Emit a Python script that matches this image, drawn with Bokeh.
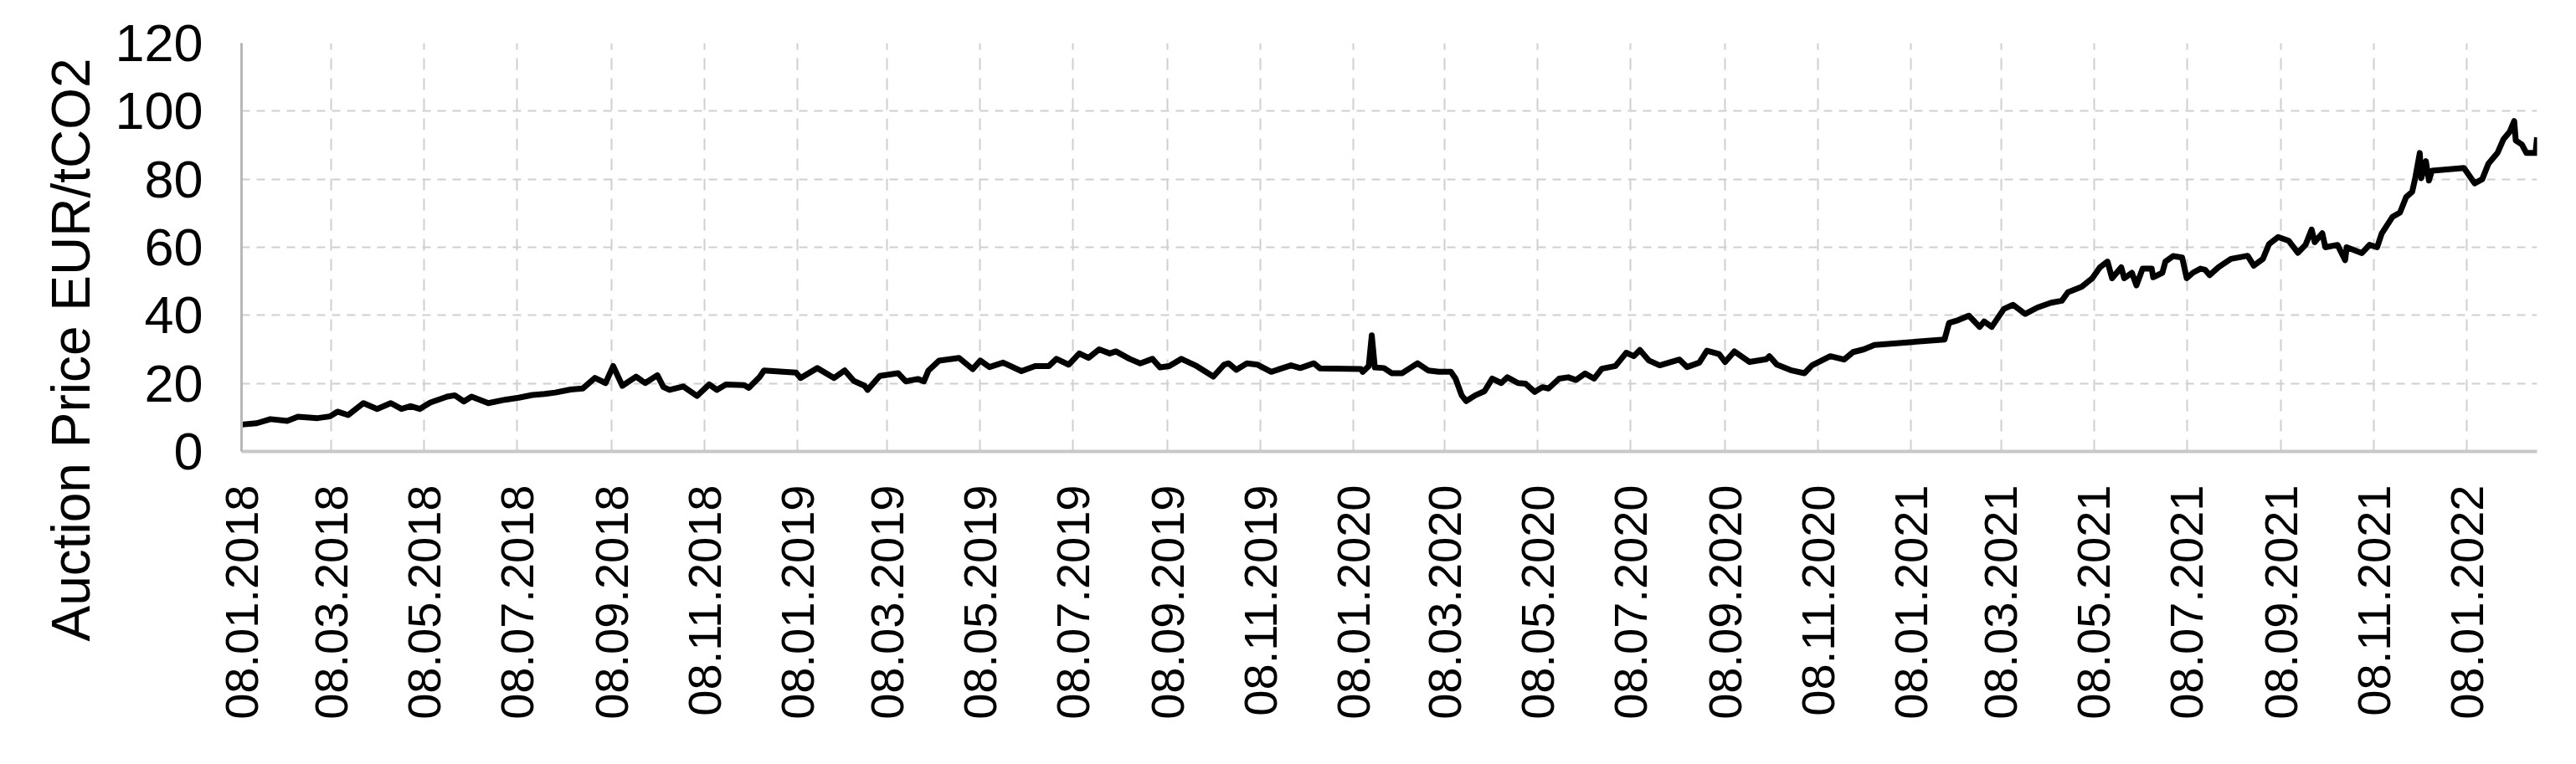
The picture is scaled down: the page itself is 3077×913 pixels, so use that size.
import math
import pandas as pd
from bokeh.plotting import figure
from bokeh.models import ColumnDataSource, Range1d, FixedTicker, DatetimeTickFormatter, Title
from bokeh.embed import file_html
from bokeh.resources import INLINE

# ---- data ----
dates = [
    "2018-01-08", "2018-01-18", "2018-01-27", "2018-02-07", "2018-02-14", "2018-02-27",
    "2018-03-07", "2018-03-12", "2018-03-19", "2018-03-29", "2018-04-07", "2018-04-16",
    "2018-04-23", "2018-04-29", "2018-05-05", "2018-05-12", "2018-05-23", "2018-05-28",
    "2018-06-03", "2018-06-08", "2018-06-19", "2018-06-30", "2018-07-09", "2018-07-18",
    "2018-07-26", "2018-08-02", "2018-08-12", "2018-08-20", "2018-08-28", "2018-09-04",
    "2018-09-09", "2018-09-15", "2018-09-24", "2018-09-30", "2018-10-08", "2018-10-12",
    "2018-10-16", "2018-10-25", "2018-11-03", "2018-11-11", "2018-11-16", "2018-11-22",
    "2018-12-04", "2018-12-07", "2018-12-14", "2018-12-17", "2019-01-07", "2019-01-10",
    "2019-01-21", "2019-02-01", "2019-02-08", "2019-02-14", "2019-02-21", "2019-02-23",
    "2019-03-03", "2019-03-15", "2019-03-20", "2019-03-28", "2019-04-01", "2019-04-04",
    "2019-04-11", "2019-04-24", "2019-05-03", "2019-05-08", "2019-05-14", "2019-05-23",
    "2019-06-04", "2019-06-13", "2019-06-22", "2019-06-27", "2019-07-05", "2019-07-12",
    "2019-07-18", "2019-07-25", "2019-08-01", "2019-08-05", "2019-08-14", "2019-08-21",
    "2019-08-29", "2019-09-03", "2019-09-09", "2019-09-17", "2019-09-27", "2019-10-08",
    "2019-10-15", "2019-10-18", "2019-10-23", "2019-10-30", "2019-11-06", "2019-11-15",
    "2019-11-28", "2019-12-04", "2019-12-13", "2019-12-17", "2020-01-13", "2020-01-14",
    "2020-01-18", "2020-01-20", "2020-01-22", "2020-01-28", "2020-02-02", "2020-02-09",
    "2020-02-13", "2020-02-19", "2020-02-26", "2020-03-04", "2020-03-12", "2020-03-15",
    "2020-03-19", "2020-03-22", "2020-03-28", "2020-04-03", "2020-04-08", "2020-04-14",
    "2020-04-18", "2020-04-25", "2020-04-30", "2020-05-06", "2020-05-11", "2020-05-15",
    "2020-05-22", "2020-05-28", "2020-06-02", "2020-06-08", "2020-06-14", "2020-06-19",
    "2020-06-28", "2020-07-05", "2020-07-10", "2020-07-14", "2020-07-20", "2020-07-27",
    "2020-08-09", "2020-08-14", "2020-08-22", "2020-08-27", "2020-09-04", "2020-09-08",
    "2020-09-14", "2020-09-24", "2020-10-05", "2020-10-07", "2020-10-12", "2020-10-21",
    "2020-10-30", "2020-11-04", "2020-11-16", "2020-11-25", "2020-12-01", "2020-12-08",
    "2020-12-15", "2021-01-30", "2021-02-02", "2021-02-08", "2021-02-15", "2021-02-22",
    "2021-02-25", "2021-03-02", "2021-03-10", "2021-03-16", "2021-03-24", "2021-04-01",
    "2021-04-10", "2021-04-17", "2021-04-21", "2021-04-30", "2021-05-07", "2021-05-12",
    "2021-05-17", "2021-05-20", "2021-05-26", "2021-05-28", "2021-06-02", "2021-06-05",
    "2021-06-09", "2021-06-15", "2021-06-16", "2021-06-22", "2021-06-24", "2021-06-29",
    "2021-07-05", "2021-07-08", "2021-07-12", "2021-07-17", "2021-07-20", "2021-07-23",
    "2021-07-29", "2021-08-06", "2021-08-17", "2021-08-21", "2021-08-27", "2021-08-31",
    "2021-09-06", "2021-09-13", "2021-09-19", "2021-09-24", "2021-09-28", "2021-09-30",
    "2021-10-05", "2021-10-07", "2021-10-15", "2021-10-20", "2021-10-21", "2021-10-31",
    "2021-11-05", "2021-11-10", "2021-11-13", "2021-11-20", "2021-11-25", "2021-11-29",
    "2021-12-03", "2021-12-05", "2021-12-08", "2021-12-09", "2021-12-12", "2021-12-14",
    "2021-12-16", "2022-01-06", "2022-01-13", "2022-01-18", "2022-01-22", "2022-01-28",
    "2022-02-01", "2022-02-05", "2022-02-08", "2022-02-09", "2022-02-13", "2022-02-16",
    "2022-02-22", "2022-02-23",
]
prices = [
    7.9, 8.3, 9.5, 9.0, 10.2, 9.8,
    10.3, 11.7, 10.7, 14.2, 12.5, 14.2,
    12.5, 13.3, 12.5, 14.4, 16.1, 16.5,
    14.7, 16.1, 14.2, 15.2, 15.8, 16.6,
    16.9, 17.3, 18.2, 18.5, 21.6, 20.1,
    25.1, 19.3, 22.0, 20.1, 22.4, 18.9,
    18.1, 19.1, 16.3, 19.7, 18.1, 19.7,
    19.5, 18.7, 21.8, 23.8, 23.2, 21.6,
    24.5, 21.6, 23.8, 20.7, 19.3, 18.1,
    22.2, 23.0, 20.6, 21.3, 20.6, 23.8,
    26.7, 27.5, 24.2, 26.7, 24.8, 26.1,
    23.6, 25.1, 25.1, 27.2, 25.5, 28.8,
    27.5, 30.0, 28.8, 29.4, 27.2, 25.9,
    27.2, 24.7, 25.1, 27.2, 25.1, 22.0,
    25.5, 25.9, 24.0, 25.9, 25.5, 23.4,
    25.3, 24.5, 25.9, 24.4, 24.2, 23.4,
    25.1, 34.1, 24.7, 24.5, 23.0, 23.0,
    24.2, 25.9, 23.8, 23.4, 23.4, 21.4,
    16.5, 14.8, 16.5, 17.7, 21.4, 20.1,
    21.8, 20.1, 19.9, 17.5, 18.9, 18.5,
    21.4, 21.8, 21.0, 22.9, 21.4, 24.3,
    25.1, 29.0, 28.0, 29.8, 26.7, 25.3,
    27.0, 24.8, 26.1, 29.6, 28.6, 26.3,
    29.4, 26.3, 27.1, 28.0, 25.5, 23.9,
    23.0, 25.3, 28.0, 27.0, 29.2, 30.0,
    31.3, 32.9, 37.8, 38.6, 39.9, 36.6,
    38.2, 36.6, 41.9, 43.1, 40.4, 42.3,
    43.7, 44.3, 46.8, 48.4, 50.9, 54.1,
    55.8, 50.9, 54.1, 50.9, 52.5, 48.8,
    53.7, 53.7, 51.2, 52.5, 55.8, 57.4,
    57.0, 50.9, 52.5, 53.7, 53.4, 51.8,
    54.2, 56.6, 57.5, 54.6, 56.6, 60.9,
    63.0, 61.9, 58.4, 60.7, 65.2, 61.5,
    64.1, 60.0, 60.7, 56.2, 60.0, 58.3,
    60.7, 60.0, 64.0, 68.9, 70.2, 74.7,
    76.3, 80.3, 87.7, 80.3, 85.3, 79.6,
    82.5, 83.3, 78.8, 80.0, 84.5, 87.7,
    91.8, 93.9, 97.1, 91.4, 90.2, 87.7,
    87.7, 92.3,
]
tick_dates = [
    "2018-01-08", "2018-03-08", "2018-05-08", "2018-07-08", "2018-09-08", "2018-11-08",
    "2019-01-08", "2019-03-08", "2019-05-08", "2019-07-08", "2019-09-08", "2019-11-08",
    "2020-01-08", "2020-03-08", "2020-05-08", "2020-07-08", "2020-09-08", "2020-11-08",
    "2021-01-08", "2021-03-08", "2021-05-08", "2021-07-08", "2021-09-08", "2021-11-08",
    "2022-01-08",
]
y_ticks = [0, 20, 40, 60, 80, 100, 120]
y_title = "Auction Price EUR/tCO2"

# ---- plot ----
x = pd.to_datetime(dates)
src = ColumnDataSource(dict(date=x, price=prices))

FONT = "Liberation Sans"

p = figure(
    width=3061, height=897,
    x_axis_type="datetime",
    x_range=Range1d(x[0], x[-1]),
    y_range=Range1d(y_ticks[0], y_ticks[-1]),
    output_backend="svg", toolbar_location=None,
    min_border_left=288, min_border_right=31, min_border_top=51, min_border_bottom=358,
)
p.outline_line_color = None
p.background_fill_color = "white"
p.border_fill_color = "white"

p.line("date", "price", source=src, line_color="black", line_width=7, line_join="round")

tick_ms = [pd.Timestamp(t).value // 10**6 for t in tick_dates]
p.xaxis.ticker = FixedTicker(ticks=tick_ms)
fmt = "%d.%m.%Y"
p.xaxis.formatter = DatetimeTickFormatter(
    milliseconds=fmt, seconds=fmt, minsec=fmt, minutes=fmt, hourmin=fmt, hours=fmt,
    days=fmt, months=fmt, years=fmt)
p.xaxis.major_label_orientation = math.pi / 2
p.xaxis.major_label_text_font = FONT
p.xaxis.major_label_text_font_size = "56px"
p.xaxis.major_label_text_color = "black"
p.xaxis.major_label_standoff = 34
p.xaxis.major_tick_line_color = None
p.xaxis.minor_tick_line_color = None
p.xaxis.axis_line_color = "#c8c8c8"
p.xaxis.axis_line_width = 4

p.yaxis.ticker = FixedTicker(ticks=y_ticks)
p.yaxis.major_label_text_font = FONT
p.yaxis.major_label_text_font_size = "63px"
p.yaxis.major_label_text_color = "black"
p.yaxis.major_label_standoff = 40
p.yaxis.major_tick_line_color = None
p.yaxis.minor_tick_line_color = None
p.yaxis.axis_line_color = "#b8b8b8"
p.yaxis.axis_line_width = 3

p.xgrid.grid_line_color = "#cfcfcf"
p.xgrid.grid_line_width = 2
p.xgrid.grid_line_dash = "14 10"
p.ygrid.grid_line_color = "#cfcfcf"
p.ygrid.grid_line_width = 2
p.ygrid.grid_line_dash = "10 8"

p.add_layout(Title(
    text=y_title, align="left", offset=-227, standoff=27,
    text_font=FONT, text_font_size="64px", text_font_style="normal", text_color="black",
), "left")

open("out.html", "w").write(file_html(p, INLINE))
